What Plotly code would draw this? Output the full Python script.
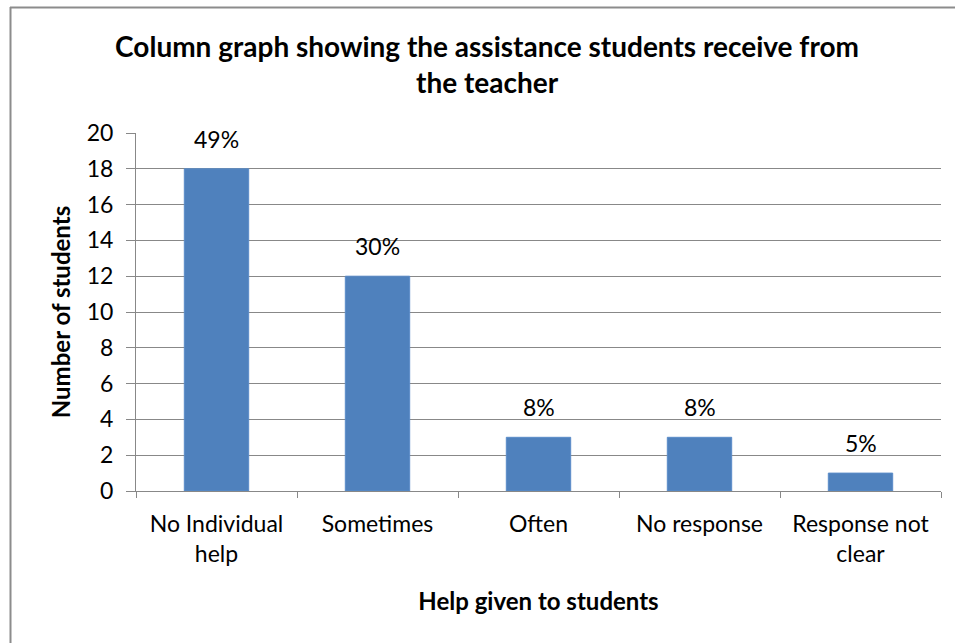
import plotly.graph_objects as go

categories = ["No Individual help", "Sometimes", "Often", "No response", "Response not clear"]
tick_labels = ["No Individual<br>help", "Sometimes", "Often", "No response", "Response not<br>clear"]
students = [18, 12, 3, 3, 1]
percent_labels = ["49%", "30%", "8%", "8%", "5%"]

W, H = 955, 643
L, R, T, B = 136, 941, 133, 491  # plot area in pixels
pw, ph = R - L, B - T

def px(x):
    return (x - L) / pw

def py(y):
    return (B - y) / ph

font = "Lato, Carlito, Calibri, sans-serif"
grid = "#888888"

fig = go.Figure()
fig.add_trace(go.Bar(
    x=categories, y=students,
    marker=dict(color="#4F81BD", line=dict(color="#5B8CC8", width=1)),
    width=0.4,
))

for c, v, t in zip(categories, students, percent_labels):
    fig.add_annotation(x=c, y=v, text=t, showarrow=False,
                       yanchor="bottom", yshift=14,
                       font=dict(size=23, color="#000000", family=font))

fig.update_layout(
    width=W, height=H,
    margin=dict(l=L, r=W - R, t=T, b=H - B),
    paper_bgcolor="white", plot_bgcolor="white",
    showlegend=False,
    font=dict(family=font, size=23, color="#000000"),
    title=dict(
        text="<b>Column graph showing the assistance students receive from<br>the teacher</b>",
        x=0.51, xref="container", xanchor="center",
        y=1 - 57 / H, yref="container", yanchor="middle",
        font=dict(size=28, family=font),
    ),
    xaxis=dict(
        categoryorder="array", categoryarray=categories,
        tickmode="array", tickvals=categories, ticktext=tick_labels,
        tickson="boundaries", ticks="outside", ticklen=6, tickcolor=grid, tickwidth=1,
        ticklabelstandoff=12,
        showline=True, linecolor=grid, linewidth=1,
        showgrid=False,
        title=dict(text="<b>Help given to students</b>", font=dict(size=24), standoff=27),
        tickfont=dict(size=23),
    ),
    yaxis=dict(
        range=[0, 20], dtick=2, tick0=0,
        ticks="outside", ticklen=9, tickcolor=grid, tickwidth=1,
        ticklabelstandoff=8,
        showline=True, linecolor=grid, linewidth=1,
        showgrid=True, gridcolor=grid, gridwidth=1,
        zeroline=False,
        title=dict(text="<b>Number of students</b>", font=dict(size=24), standoff=9),
        tickfont=dict(size=23),
    ),
)

# outer chart border (top and left visible)
fig.add_shape(type="line", xref="paper", yref="paper",
              x0=px(10), x1=px(960), y0=py(7.5), y1=py(7.5),
              line=dict(color="#8C8C8C", width=2))
fig.add_shape(type="line", xref="paper", yref="paper",
              x0=px(10.5), x1=px(10.5), y0=py(7), y1=py(650),
              line=dict(color="#8C8C8C", width=2))

fig.write_html("out.html")
